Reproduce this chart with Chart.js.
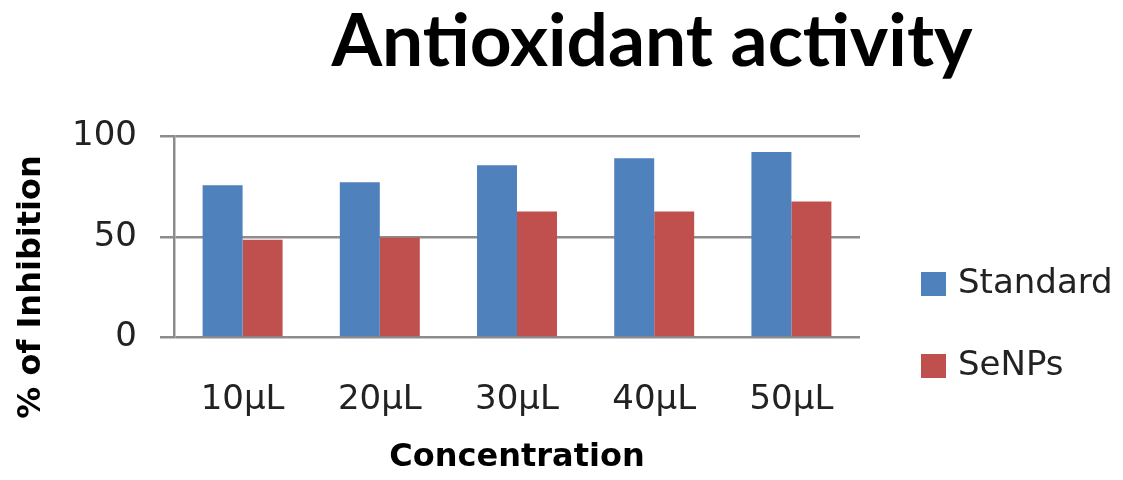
<!DOCTYPE html>
<html>
<head>
<meta charset="utf-8">
<script src="https://cdn.jsdelivr.net/npm/chart.js@4/dist/chart.umd.min.js"></script>
<style>
html,body{margin:0;padding:0;background:#fff;}
#c{display:block;}
</style>
</head>
<body>
<canvas id="c" width="1123" height="480"></canvas>
<script>
const categories = ['10µL', '20µL', '30µL', '40µL', '50µL'];
const standardValues = [75.5, 77, 85.5, 89, 92];
const senpsValues = [48.5, 49.5, 62.5, 62.5, 67.5];
const yTicks = [0, 50, 100];
const seriesNames = ['Standard', 'SeNPs'];
const seriesColors = ['#4F81BD', '#C0504D'];
const chartTitle = 'Antioxidant activity';
const xTitle = 'Concentration';
const yTitle = '% of Inhibition';

const gridColor = '#8c8c8c';

const textPlugin = {
  id: 'textPlugin',
  afterDraw(chart) {
    const ctx = chart.ctx;
    ctx.save();
    // main title
    ctx.fillStyle = '#000';
    ctx.font = 'bold 73px Lato';
    ctx.textAlign = 'center';
    ctx.textBaseline = 'alphabetic';
    ctx.fillText(chartTitle, 652, 66);
    // y title
    ctx.save();
    ctx.translate(32, 287);
    ctx.rotate(-Math.PI / 2);
    ctx.font = 'bold 32px "DejaVu Sans"';
    ctx.textAlign = 'center';
    ctx.textBaseline = 'middle';
    ctx.fillStyle = '#000';
    ctx.fillText(yTitle, 0, 0);
    ctx.restore();
    // legend
    const ys = [284, 366];
    seriesNames.forEach((name, i) => {
      ctx.fillStyle = seriesColors[i];
      ctx.fillRect(921, ys[i] - 12, 25, 24);
      ctx.fillStyle = '#222';
      ctx.font = '34px "DejaVu Sans"';
      ctx.textAlign = 'left';
      ctx.textBaseline = 'middle';
      ctx.fillText(name, 958, ys[i]);
    });
    ctx.restore();
  }
};

new Chart(document.getElementById('c'), {
  type: 'bar',
  data: {
    labels: categories,
    datasets: [
      { label: seriesNames[0], data: standardValues, backgroundColor: seriesColors[0] },
      { label: seriesNames[1], data: senpsValues, backgroundColor: seriesColors[1] }
    ]
  },
  options: {
    responsive: false,
    animation: false,
    devicePixelRatio: 1,
    layout: { padding: { top: 136, left: 0, right: 263, bottom: 0 } },
    plugins: {
      legend: { display: false },
      title: { display: false },
      tooltip: { enabled: false }
    },
    datasets: { bar: { barPercentage: 1, categoryPercentage: 0.583 } },
    scales: {
      x: {
        grid: { display: false },
        border: { display: false },
        ticks: { font: { family: 'DejaVu Sans', size: 34 }, color: '#222', padding: 34, maxRotation: 0 },
        title: { display: true, text: xTitle, font: { family: 'DejaVu Sans', size: 32, weight: 'bold' }, color: '#000', padding: { top: 0, bottom: 3 } },
        afterFit(scale) { scale.height = 142.5; }
      },
      y: {
        min: 0, max: 100,
        afterBuildTicks(scale) { scale.ticks = yTicks.map(v => ({ value: v })); },
        grid: { color: gridColor, lineWidth: 2.5, tickLength: 14, drawTicks: true, tickColor: gridColor },
        border: { display: true, color: gridColor, width: 2.5 },
        ticks: { font: { family: 'DejaVu Sans', size: 34 }, color: '#222', padding: 23 },
        afterFit(scale) { scale.width = 174; }
      }
    }
  },
  plugins: [textPlugin]
});
</script>
</body>
</html>
